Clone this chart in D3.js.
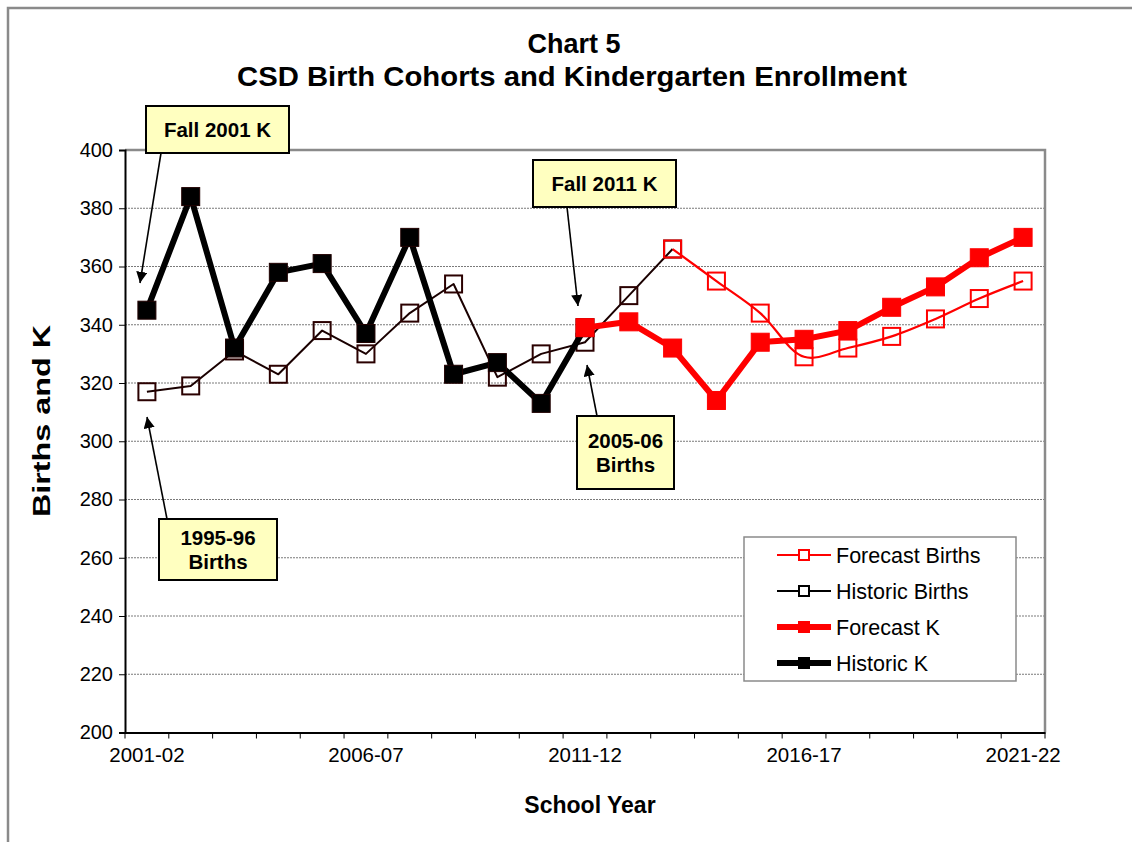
<!DOCTYPE html>
<html>
<head>
<meta charset="utf-8">
<script src="https://cdn.jsdelivr.net/npm/d3@7"></script>
<style>
  html, body { margin: 0; padding: 0; background: #fff; }
  svg { display: block; font-family: "Liberation Sans", Arial, sans-serif; }
</style>
</head>
<body>
<svg id="chart" width="1132" height="842"></svg>
<script>
// ---------- DATA ----------
const schoolYears = ["2001-02","2002-03","2003-04","2004-05","2005-06","2006-07","2007-08",
  "2008-09","2009-10","2010-11","2011-12","2012-13","2013-14","2014-15","2015-16",
  "2016-17","2017-18","2018-19","2019-20","2020-21","2021-22"];
const xTickLabels = ["2001-02","2006-07","2011-12","2016-17","2021-22"];
const yTickValues = [200,220,240,260,280,300,320,340,360,380,400];

const historicKYears = schoolYears.slice(0, 11);
const historicK = [345,384,332,358,361,337,370,323,327,313,339];
const forecastKYears = schoolYears.slice(10);
const forecastK = [339,341,332,314,334,335,338,346,353,363,370];
const historicBirthsYears = schoolYears.slice(0, 13);
const historicBirths = [317,319,331,323,338,330,344,354,322,330,334,350,366];
const forecastBirthsYears = schoolYears.slice(12);
const forecastBirths = [366,355,344,329,332,336,342,349,355];

const seriesNames = ["Forecast Births","Historic Births","Forecast K","Historic K"];
const annotationTexts = [["Fall 2001 K"],["Fall 2011 K"],["2005-06","Births"],["1995-96","Births"]];

// ---------- LAYOUT ----------
const svg = d3.select("#chart");
const L = 125, R = 1045, T = 150, B = 732.5;
const x = d3.scaleBand().domain(schoolYears).range([L, R]);
const xc = d => x(d) + x.bandwidth() / 2;
const y = d3.scaleLinear().domain([200, 400]).range([B, T]);
const FONT = '"Liberation Sans", Arial, sans-serif';

// outer chart frame
svg.append("rect").attr("x", 8).attr("y", 8).attr("width", 1140).attr("height", 850)
  .attr("fill", "#fff").attr("stroke", "#8a8a8a").attr("stroke-width", 2.5);

// gridlines
svg.append("g").selectAll("line").data(yTickValues.filter(v => v > 200 && v < 400)).join("line")
  .attr("x1", L).attr("x2", R).attr("y1", d => y(d)).attr("y2", d => y(d))
  .attr("stroke", "#7a7a7a").attr("stroke-width", 1).attr("stroke-dasharray", "2,1");

// plot border top/right
svg.append("path").attr("d", `M${L},${T}H${R}V${B}`).attr("fill", "none")
  .attr("stroke", "#8a8a8a").attr("stroke-width", 2.5);

// Y axis
const yAxis = svg.append("g").attr("transform", `translate(${L},0)`)
  .call(d3.axisLeft(y).tickValues(yTickValues).tickSize(6).tickPadding(6).tickFormat(d3.format("d")));
yAxis.select(".domain").attr("stroke", "#000").attr("stroke-width", 2);
yAxis.selectAll(".tick line").attr("stroke", "#000").attr("stroke-width", 1);
yAxis.selectAll("text").attr("font-family", FONT).attr("font-size", 20).attr("fill", "#000");

// X axis (labels at category centres, ticks between categories)
const xAxis = svg.append("g").attr("transform", `translate(0,${B})`)
  .call(d3.axisBottom(x).tickValues(xTickLabels).tickSize(0).tickPadding(15));
xAxis.select(".domain").attr("stroke", "#000").attr("stroke-width", 2);
xAxis.selectAll("text").attr("font-family", FONT).attr("font-size", 20.5).attr("fill", "#000");
const boundaries = schoolYears.map(d => x(d)).concat([x(schoolYears[schoolYears.length-1]) + x.bandwidth()]);
svg.append("g").selectAll("line").data(boundaries).join("line")
  .attr("x1", d => d).attr("x2", d => d).attr("y1", B).attr("y2", B + 6)
  .attr("stroke", "#000").attr("stroke-width", 1);

// ---------- SERIES ----------
const lineGen = d3.line().x(d => xc(d[0])).y(d => y(d[1]));
const smoothGen = d3.line().x(d => xc(d[0])).y(d => y(d[1])).curve(d3.curveCatmullRom.alpha(0.5));
function series(years, vals, opts) {
  const pts = years.map((yr, i) => [yr, vals[i]]);
  const g = svg.append("g");
  g.append("path").datum(pts).attr("d", opts.smooth ? smoothGen : lineGen)
    .attr("fill", "none").attr("stroke", opts.line).attr("stroke-width", opts.lw)
    .attr("stroke-linejoin", "round");
  const s = opts.size;
  g.selectAll("rect").data(pts).join("rect")
    .attr("x", d => xc(d[0]) - s / 2).attr("y", d => y(d[1]) - s / 2)
    .attr("width", s).attr("height", s)
    .attr("fill", opts.fill).attr("stroke", opts.mstroke).attr("stroke-width", opts.msw);
}
series(historicBirthsYears, historicBirths, {line: "#1a0000", lw: 2, size: 17, fill: "none", mstroke: "#2a0000", msw: 2});
series(forecastBirthsYears, forecastBirths, {line: "#ff0000", lw: 2.2, size: 17, fill: "none", mstroke: "#ff0000", msw: 2, smooth: true});
series(historicKYears, historicK, {line: "#000", lw: 6, size: 18, fill: "#000", mstroke: "#200000", msw: 1});
series(forecastKYears, forecastK, {line: "#ff0000", lw: 6, size: 18, fill: "#ff0000", mstroke: "#ff0000", msw: 1});

// ---------- ANNOTATIONS ----------
svg.append("defs").append("marker").attr("id", "ah").attr("viewBox", "0 0 10 10")
  .attr("refX", 10).attr("refY", 5).attr("markerWidth", 7).attr("markerHeight", 7)
  .attr("markerUnits", "strokeWidth").attr("orient", "auto")
  .append("path").attr("d", "M0,0L10,5L0,10Z").attr("fill", "#000");

const annBoxes = [
  {bx: 146, by: 106, bw: 143, bh: 47, from: [161, 153], to: [140, 283]},
  {bx: 533, by: 160, bw: 143, bh: 47, from: [567, 207], to: [578, 306]},
  {bx: 577, by: 416, bw: 97, bh: 73, from: [597, 416], to: [587, 365]},
  {bx: 159, by: 519, bw: 118, bh: 61, from: [167, 519], to: [147, 417]}
];
annBoxes.forEach((a, i) => {
  svg.append("line").attr("x1", a.from[0]).attr("y1", a.from[1]).attr("x2", a.to[0]).attr("y2", a.to[1])
    .attr("stroke", "#000").attr("stroke-width", 1.6).attr("marker-end", "url(#ah)");
  svg.append("rect").attr("x", a.bx).attr("y", a.by).attr("width", a.bw).attr("height", a.bh)
    .attr("fill", "#ffffc0").attr("stroke", "#000").attr("stroke-width", 2);
  const lines = annotationTexts[i];
  const t = svg.append("text").attr("text-anchor", "middle").attr("font-family", FONT)
    .attr("font-weight", "bold").attr("font-size", 20.5).attr("fill", "#000");
  const cx = a.bx + a.bw / 2, cy = a.by + a.bh / 2;
  const lh = 24;
  lines.forEach((ln, j) => {
    t.append("tspan").attr("x", cx).attr("y", cy + (j - (lines.length - 1) / 2) * lh + 7).text(ln);
  });
});

// ---------- LEGEND ----------
const lg = svg.append("g");
lg.append("rect").attr("x", 744).attr("y", 537).attr("width", 272).attr("height", 144)
  .attr("fill", "#fff").attr("stroke", "#8a8a8a").attr("stroke-width", 1.5);
const legendStyles = [
  {line: "#ff0000", lw: 2, fill: "#fff", ms: "#ff0000", size: 10, msw: 2},
  {line: "#000", lw: 2, fill: "#fff", ms: "#000", size: 10, msw: 2},
  {line: "#ff0000", lw: 6, fill: "#ff0000", ms: "#ff0000", size: 11, msw: 1},
  {line: "#000", lw: 6, fill: "#000", ms: "#000", size: 11, msw: 1}
];
const legendY = d3.scalePoint().domain(seriesNames).range([555, 663]);
seriesNames.forEach((name, i) => {
  const st = legendStyles[i], yy = legendY(name);
  lg.append("line").attr("x1", 777).attr("x2", 831).attr("y1", yy).attr("y2", yy)
    .attr("stroke", st.line).attr("stroke-width", st.lw);
  lg.append("rect").attr("x", 804 - st.size / 2).attr("y", yy - st.size / 2)
    .attr("width", st.size).attr("height", st.size).attr("fill", st.fill)
    .attr("stroke", st.ms).attr("stroke-width", st.msw);
  lg.append("text").attr("x", 836).attr("y", yy + 7.5).attr("font-family", FONT)
    .attr("font-size", 21.5).attr("fill", "#000").text(name);
});

// ---------- TITLES ----------
svg.append("text").attr("x", 574).attr("y", 53).attr("text-anchor", "middle")
  .attr("font-family", FONT).attr("font-weight", "bold").attr("font-size", 27).text("Chart 5");
svg.append("text").attr("x", 572).attr("y", 86).attr("text-anchor", "middle")
  .attr("font-family", FONT).attr("font-weight", "bold").attr("font-size", 27.5)
  .attr("textLength", 670).attr("lengthAdjust", "spacingAndGlyphs")
  .text("CSD Birth Cohorts and Kindergarten Enrollment");
svg.append("text").attr("x", 590).attr("y", 813).attr("text-anchor", "middle")
  .attr("font-family", FONT).attr("font-weight", "bold").attr("font-size", 23).text("School Year");
svg.append("text").attr("transform", "translate(50,421) rotate(-90)").attr("text-anchor", "middle")
  .attr("font-family", FONT).attr("font-weight", "bold").attr("font-size", 23)
  .attr("textLength", 192).attr("lengthAdjust", "spacingAndGlyphs").text("Births and K");
</script>
</body>
</html>
